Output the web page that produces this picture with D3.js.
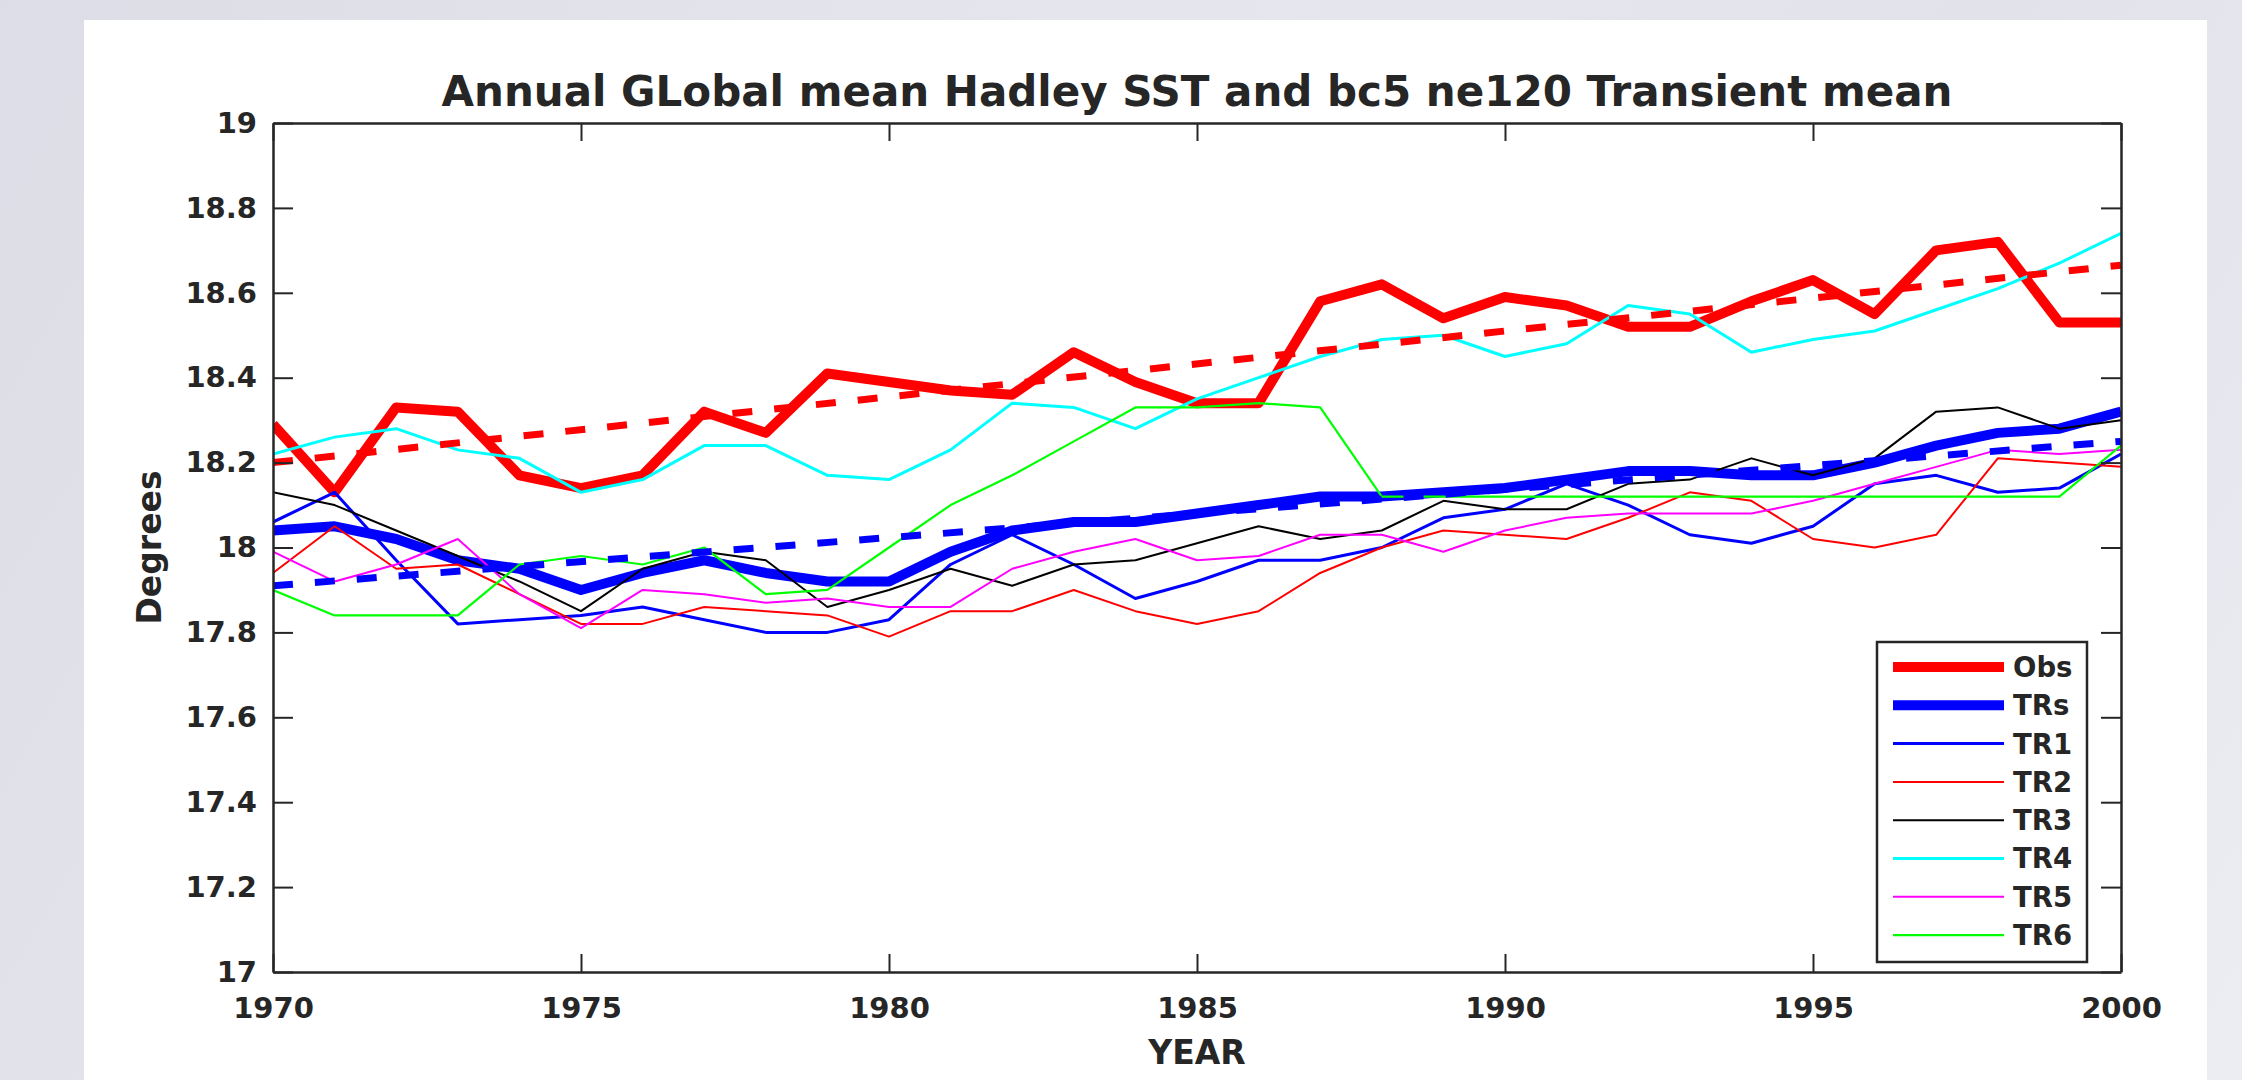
<!DOCTYPE html>
<html>
<head>
<meta charset="utf-8">
<script src="https://cdn.jsdelivr.net/npm/d3@7"></script>
<style>
	html, body { margin: 0; padding: 0; }
	body {
		width: 2242px; height: 1080px; overflow: hidden;
		background: linear-gradient(120deg, #dcdde6 0%, #e6e7ee 45%, #e1e2ea 70%, #ecedf2 100%);
	}
	#card { position: absolute; left: 84px; top: 20px; width: 2123px; height: 1060px; background: #fff; }
	svg { position: absolute; left: 0; top: 0; }
	text { font-family: "DejaVu Sans", sans-serif; font-weight: bold; fill: #262626; }
</style>
</head>
<body>
<div id="card"></div>
<script>

// DATA
// x categories (years)
const years = [1970, 1971, 1972, 1973, 1974, 1975, 1976, 1977, 1978, 1979,
	1980, 1981, 1982, 1983, 1984, 1985, 1986, 1987, 1988, 1989,
	1990, 1991, 1992, 1993, 1994, 1995, 1996, 1997, 1998, 1999, 2000];
// observed Hadley SST
const obs = [18.29, 18.13, 18.33, 18.32, 18.17, 18.14, 18.17, 18.32, 18.27, 18.41,
	18.39, 18.37, 18.36, 18.46, 18.39, 18.34, 18.34, 18.58, 18.62, 18.54,
	18.59, 18.57, 18.52, 18.52, 18.58, 18.63, 18.55, 18.70, 18.72, 18.53, 18.53];
// transient ensemble mean
const trs = [18.04, 18.05, 18.02, 17.97, 17.95, 17.90, 17.94, 17.97, 17.94, 17.92,
	17.92, 17.99, 18.04, 18.06, 18.06, 18.08, 18.10, 18.12, 18.12, 18.13,
	18.14, 18.16, 18.18, 18.18, 18.17, 18.17, 18.20, 18.24, 18.27, 18.28, 18.32];
// members
const tr1 = [18.06, 18.13, 17.97, 17.82, 17.83, 17.84, 17.86, 17.83, 17.80, 17.80,
	17.83, 17.96, 18.03, 17.96, 17.88, 17.92, 17.97, 17.97, 18.00, 18.07,
	18.09, 18.15, 18.10, 18.03, 18.01, 18.05, 18.15, 18.17, 18.13, 18.14, 18.22];
const tr2 = [17.94, 18.05, 17.95, 17.96, 17.89, 17.82, 17.82, 17.86, 17.85, 17.84,
	17.79, 17.85, 17.85, 17.90, 17.85, 17.82, 17.85, 17.94, 18.00, 18.04,
	18.03, 18.02, 18.07, 18.13, 18.11, 18.02, 18.00, 18.03, 18.21, 18.20, 18.19];
const tr3 = [18.13, 18.10, 18.04, 17.98, 17.92, 17.85, 17.95, 17.99, 17.97, 17.86,
	17.90, 17.95, 17.91, 17.96, 17.97, 18.01, 18.05, 18.02, 18.04, 18.11,
	18.09, 18.09, 18.15, 18.16, 18.21, 18.17, 18.21, 18.32, 18.33, 18.28, 18.30];
const tr4 = [18.22, 18.26, 18.28, 18.23, 18.21, 18.13, 18.16, 18.24, 18.24, 18.17,
	18.16, 18.23, 18.34, 18.33, 18.28, 18.35, 18.40, 18.45, 18.49, 18.50,
	18.45, 18.48, 18.57, 18.55, 18.46, 18.49, 18.51, 18.56, 18.61, 18.67, 18.74];
const tr5 = [17.99, 17.92, 17.96, 18.02, 17.89, 17.81, 17.90, 17.89, 17.87, 17.88,
	17.86, 17.86, 17.95, 17.99, 18.02, 17.97, 17.98, 18.03, 18.03, 17.99,
	18.04, 18.07, 18.08, 18.08, 18.08, 18.11, 18.15, 18.19, 18.23, 18.22, 18.23];
const tr6 = [17.90, 17.84, 17.84, 17.84, 17.96, 17.98, 17.96, 18.00, 17.89, 17.90,
	18.00, 18.10, 18.17, 18.25, 18.33, 18.33, 18.34, 18.33, 18.12, 18.12,
	18.12, 18.12, 18.12, 18.12, 18.12, 18.12, 18.12, 18.12, 18.12, 18.12, 18.24];
// linear trends (end points)
const trendYears = [1970, 2000];
const obsTrend = [18.20, 18.665];
const trsTrend = [17.91, 18.25];
// ticks
const xTicks = [1970, 1975, 1980, 1985, 1990, 1995, 2000];
const yTicks = [17, 17.2, 17.4, 17.6, 17.8, 18, 18.2, 18.4, 18.6, 18.8, 19];
// legend labels
const legendNames = ["Obs", "TRs", "TR1", "TR2", "TR3", "TR4", "TR5", "TR6"];


// DRAW
function drawChart() {
	const W = 2242, H = 1080;
	const left = 273, right = 2121, top = 123, bottom = 972;

	const svg = d3.select("body").append("svg").attr("width", W).attr("height", H);

	// scales
	const xScale = d3.scaleLinear().domain([1970, 2000]).range([left, right]);
	const yScale = d3.scaleLinear().domain([17, 19]).range([bottom, top]);

	// series + styles
	const series = [
		{ values: obs, color: "#ff0000", width: 10 },
		{ values: trs, color: "#0000ff", width: 10 },
		{ values: tr1, color: "#0000ff", width: 3 },
		{ values: tr2, color: "#ff0000", width: 2 },
		{ values: tr3, color: "#000000", width: 2 },
		{ values: tr4, color: "#00ffff", width: 3 },
		{ values: tr5, color: "#ff00ff", width: 2 },
		{ values: tr6, color: "#00ff00", width: 2.2 }
	];
	const trends = [
		{ values: obsTrend, color: "#ff0000" },
		{ values: trsTrend, color: "#0000ff" }
	];

	// clip to axes box
	svg.append("clipPath").attr("id", "plotclip")
		.append("rect").attr("x", left).attr("y", top)
		.attr("width", right - left).attr("height", bottom - top);

	const line = d3.line()
		.x((d, i) => xScale(years[i]))
		.y(d => yScale(d));
	const trendLine = d3.line()
		.x((d, i) => xScale(trendYears[i]))
		.y(d => yScale(d));

	const plot = svg.append("g").attr("clip-path", "url(#plotclip)");
	series.forEach(s => {
		plot.append("path").datum(s.values)
			.attr("d", line)
			.attr("fill", "none")
			.attr("stroke", s.color)
			.attr("stroke-width", s.width)
			.attr("stroke-linejoin", "round");
	});
	trends.forEach(t => {
		plot.append("path").datum(t.values)
			.attr("d", trendLine)
			.attr("fill", "none")
			.attr("stroke", t.color)
			.attr("stroke-width", 7)
			.attr("stroke-dasharray", "20,22");
	});

	// axes (ticks inside, mirrored on top and right)
	const fmt = d3.format("~g");
	const gx = svg.append("g").attr("transform", "translate(0," + bottom + ")")
		.call(d3.axisBottom(xScale).tickValues(xTicks).tickFormat(fmt)
			.tickSizeInner(-18).tickSizeOuter(0).tickPadding(25));
	const gxTop = svg.append("g").attr("transform", "translate(0," + top + ")")
		.call(d3.axisTop(xScale).tickValues(xTicks).tickFormat("")
			.tickSizeInner(-18).tickSizeOuter(0));
	const gy = svg.append("g").attr("transform", "translate(" + left + ",0)")
		.call(d3.axisLeft(yScale).tickValues(yTicks).tickFormat(fmt)
			.tickSizeInner(-20).tickSizeOuter(0).tickPadding(16));
	const gyRight = svg.append("g").attr("transform", "translate(" + right + ",0)")
		.call(d3.axisRight(yScale).tickValues(yTicks).tickFormat("")
			.tickSizeInner(-20).tickSizeOuter(0));
	[gx, gxTop, gy, gyRight].forEach(g => {
		g.select(".domain").attr("stroke", "#262626").attr("stroke-width", 2.5);
		g.selectAll(".tick line").attr("stroke", "#262626").attr("stroke-width", 2);
		g.selectAll(".tick text").style("font-size", "29px")
			.style("font-family", "DejaVu Sans").style("font-weight", "bold").attr("fill", "#262626");
	});

	// title and axis labels
	svg.append("text").attr("x", (left + right) / 2).attr("y", 106)
		.attr("text-anchor", "middle").style("font-size", "42px")
		.text("Annual GLobal mean Hadley SST and bc5 ne120 Transient mean");
	svg.append("text").attr("x", (left + right) / 2).attr("y", 1064)
		.attr("text-anchor", "middle").style("font-size", "33px")
		.text("YEAR");
	svg.append("text")
		.attr("transform", "translate(161," + ((top + bottom) / 2) + ") rotate(-90)")
		.attr("text-anchor", "middle").style("font-size", "33px")
		.text("Degrees");

	// legend
	const legend = svg.append("g");
	legend.append("rect").attr("x", 1877).attr("y", 642).attr("width", 210).attr("height", 320)
		.attr("fill", "#fff").attr("stroke", "#262626").attr("stroke-width", 2.5);
	legendNames.forEach((name, i) => {
		const y = 667 + i * 38.3;
		legend.append("line")
			.attr("x1", 1893).attr("x2", 2004).attr("y1", y).attr("y2", y)
			.attr("stroke", series[i].color).attr("stroke-width", series[i].width);
		legend.append("text").attr("x", 2013).attr("y", y)
			.attr("dy", "0.36em").style("font-size", "27.5px").text(name);
	});
}

document.addEventListener('DOMContentLoaded', () => {
	drawChart();
});
</script>
</body>
</html>
